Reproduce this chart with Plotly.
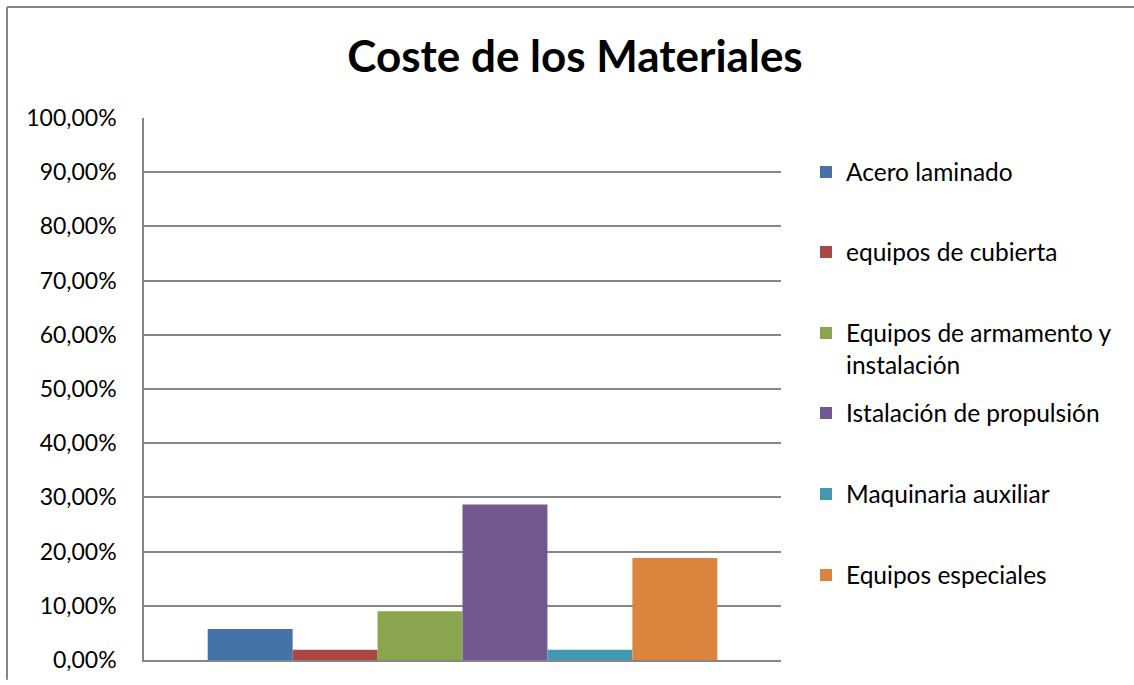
import plotly.graph_objects as go

# Data
series_names = [
    "Acero laminado",
    "equipos de cubierta",
    "Equipos de armamento y<br>instalación",
    "Istalación de propulsión",
    "Maquinaria auxiliar",
    "Equipos especiales",
]
series_values = [0.057, 0.019, 0.090, 0.287, 0.019, 0.188]
series_colors = ["#4572A7", "#AA4643", "#89A54E", "#71588F", "#4198AF", "#DB843D"]
category = ["Materiales"]
y_tick_values = [i / 10 for i in range(11)]

# Legend entry vertical centres (pixels from top)
legend_centres = [172, 252, 349, 413, 494, 575]

W, H = 1134, 685
ML, MR, MT, MB = 144, 353, 118, 20

fig = go.Figure()
legend_ids = ["legend", "legend2", "legend3", "legend4", "legend5", "legend6"]
for name, val, col, lid in zip(series_names, series_values, series_colors, legend_ids):
    fig.add_trace(go.Bar(
        x=category, y=[val], name=name,
        marker=dict(color=col, line=dict(width=0)),
        legend=lid, showlegend=True,
        hovertemplate="%{y:.2%}<extra>" + name + "</extra>",
    ))

font_family = "Lato, 'Open Sans', sans-serif"
legend_common = dict(
    xref="container", yref="container",
    xanchor="left", yanchor="middle",
    bgcolor="rgba(0,0,0,0)",
    font=dict(family=font_family, size=24.5, color="#000000"),
    valign="top",
    visible=True,
)
layout_legends = {}
for lid, yc in zip(legend_ids, legend_centres):
    layout_legends[lid] = dict(legend_common, x=806 / W, y=1 - yc / H)

# frame lines (top + left) in paper coordinates
pw = W - ML - MR
ph = H - MT - MB
def px(xp):
    return (xp - ML) / pw
def py(yp):
    return (H - MB - yp) / ph

fig.update_layout(
    width=W, height=H,
    margin=dict(l=ML, r=MR, t=MT, b=MB),
    paper_bgcolor="white", plot_bgcolor="white",
    separators=",.",
    showlegend=True,
    barmode="group", bargap=0.2, bargroupgap=0,
    title=dict(
        text="<b>Coste de los Materiales</b>",
        x=575 / W, xanchor="center", xref="container",
        y=1 - 57 / H, yanchor="middle", yref="container",
        font=dict(family=font_family, size=44, color="#000000"),
    ),
    xaxis=dict(
        showticklabels=False, showgrid=False, zeroline=False,
        showline=True, linecolor="#868686", linewidth=2,
        fixedrange=True,
    ),
    yaxis=dict(
        range=[0, 1], tickvals=y_tick_values, tickformat=".2%",
        showgrid=True, gridcolor="#868686", gridwidth=1.5,
        zeroline=False, showline=True, linecolor="#868686", linewidth=1.5,
        ticks="", ticklabelstandoff=21,
        tickfont=dict(family=font_family, size=23, color="#000000"),
    ),
    shapes=[
        dict(type="line", xref="paper", yref="paper",
             x0=px(7), x1=px(W), y0=py(6), y1=py(6),
             line=dict(color="#868686", width=2)),
        dict(type="line", xref="paper", yref="paper",
             x0=px(7), x1=px(7), y0=py(6), y1=py(H),
             line=dict(color="#868686", width=2)),
    ],
    **layout_legends,
)

fig.write_html(
    "out.html",
    config={"displayModeBar": False},
    post_script="document.body.style.margin='0';document.body.style.padding='0';",
)
